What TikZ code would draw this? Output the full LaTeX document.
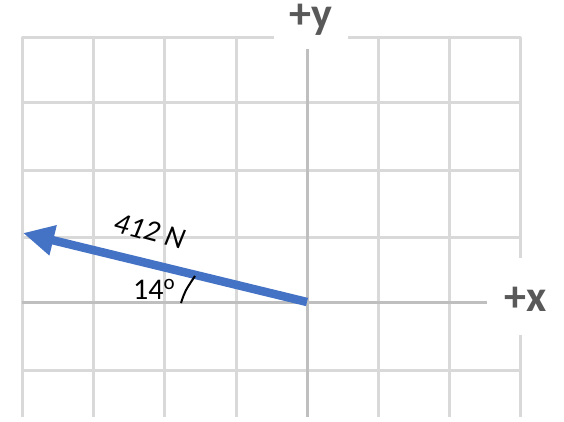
\documentclass[tikz,border=0pt]{standalone}
\usepackage{fontspec}
\setmainfont{Carlito}
\usetikzlibrary{arrows.meta}
\definecolor{gridgray}{HTML}{D9D9D9}
\definecolor{axisgray}{HTML}{BFBFBF}
\definecolor{labelgray}{HTML}{595959}
\definecolor{vecblue}{HTML}{4472C4}
\tikzset{
  gridline/.style={draw=gridgray, line width=3pt},
  axisline/.style={draw=axisgray, line width=3pt},
  axislabel/.style={text=labelgray, font=\fontsize{44}{50}\selectfont\bfseries, inner sep=0pt, text height=22pt, text depth=8pt},
  vec/.style={draw=vecblue, line width=8.5pt, -{Triangle[length=31pt,width=29pt]}},
  vlabel/.style={font=\fontsize{30}{34}\selectfont, inner sep=0pt}
}
\begin{document}
\begin{tikzpicture}[x=1pt,y=-1pt]
\useasboundingbox (0,0) rectangle (564,422);
% grid horizontal lines
\foreach \yy in {103,170,237,370} \draw[gridline] (22,\yy) -- (520,\yy);
% top line with gap
\draw[gridline, line join=round] (22,417) -- (22,38) -- (274,38);
\draw[gridline, line join=round] (348,38) -- (520,38) -- (520,258);
\draw[gridline] (520,335) -- (520,417);
% vertical lines
\foreach \xx in {93,164,236,378,449} \draw[gridline] (\xx,38) -- (\xx,417);
% axes
\coordinate (O) at (307,302);
\coordinate (T) at (23,233);
\draw[axisline] (22,302) -- (487,302);
\draw[axisline] (307,49) -- (307,417);
\node[axislabel, anchor=base] (ylab) at (311,29) {+y};
\node[axislabel, anchor=base] (xlab) at (526,311) {+x};
% vector
\draw[vec] (O) -- (T);
\node[vlabel, rotate=-15, font=\fontsize{30}{34}\selectfont\itshape] (mag) at (150,231) {412 N};
\node[vlabel, anchor=base west] (ang) at (133,299) {14\textsuperscript{o}};
\draw[line width=2pt] (181,303) .. controls (185,291) .. (195,276);
\end{tikzpicture}
\end{document}
